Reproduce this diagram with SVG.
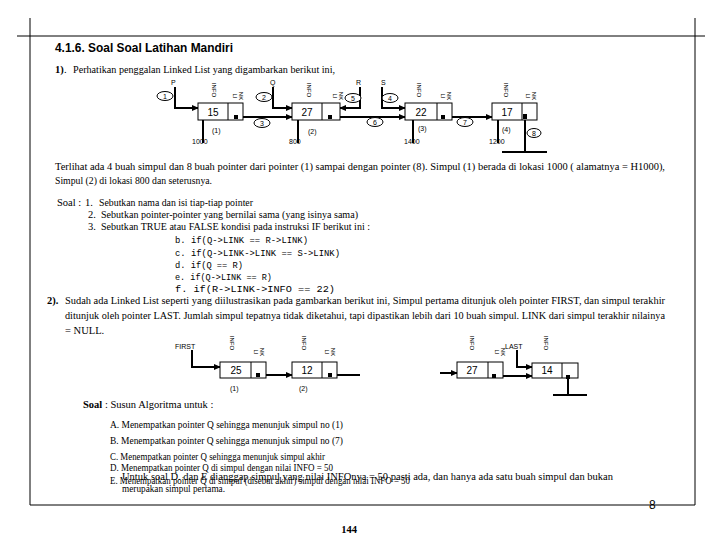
<svg xmlns="http://www.w3.org/2000/svg" width="720" height="540" viewBox="0 0 720 540">
<defs>
<marker id="arr" viewBox="0 0 8 8" refX="7" refY="4" markerWidth="7" markerHeight="7" markerUnits="userSpaceOnUse" orient="auto"><path d="M0,0.5 L8,4 L0,7.5 Z" fill="#000"/></marker>
<style>
.t{font-family:"Liberation Serif","Times New Roman",serif;font-size:10.5px;fill:#000}
.b{font-weight:bold}
.h{font-family:"Liberation Sans",Arial,sans-serif;font-size:13px;font-weight:bold;fill:#000}
.m{font-family:"Liberation Mono","Courier New",monospace;font-size:8.5px;fill:#000}
.s{font-family:"Liberation Sans",Arial,sans-serif;font-size:7px;fill:#000}
.v{font-family:"Liberation Sans",Arial,sans-serif;font-size:10px;fill:#000;text-anchor:middle}
.r{font-family:"Liberation Sans",Arial,sans-serif;font-size:6px;fill:#000;text-anchor:middle}
.box{fill:#fff;stroke:#000;stroke-width:1}
.c{fill:none;stroke:#000;stroke-width:2}
.thin{fill:none;stroke:#000;stroke-width:1}
.el{fill:#fff;stroke:#000;stroke-width:1}
.n{font-family:"Liberation Sans",Arial,sans-serif;font-size:7px;fill:#000;text-anchor:middle}
</style>
</defs>
<rect width="720" height="540" fill="#fff"/>
<g id="frame" class="thin">
<line x1="17" y1="36" x2="705" y2="36"/>
<line x1="30" y1="18" x2="30" y2="505"/>
<line x1="695" y1="18" x2="695" y2="505"/>
<line x1="30" y1="505" x2="695" y2="505"/>
</g>
<text class="h" x="55" y="52" textLength="178" lengthAdjust="spacingAndGlyphs">4.1.6. Soal Soal Latihan Mandiri</text>
<text class="t b" x="55" y="73">1)</text><text class="t" x="64" y="73">.</text>
<text class="t" x="73" y="73" textLength="262" lengthAdjust="spacingAndGlyphs">Perhatikan penggalan Linked List yang digambarkan berikut ini,</text>

<g id="connectors">
<path class="c" d="M175,87 V108 H198" marker-end="url(#arr)"/>
<path class="c" d="M273,87 V108 H292" marker-end="url(#arr)"/>
<path class="c" d="M360,87 V108 H340" marker-end="url(#arr)"/>
<path class="c" d="M382,87 V108 H405" marker-end="url(#arr)"/>
<path class="c" d="M236,117 H292" marker-end="url(#arr)"/>
<path class="c" d="M330,117 H405" marker-end="url(#arr)"/>
<path class="c" d="M443,117 H492" marker-end="url(#arr)"/>
<path class="c" d="M525,117 V152"/>
<path class="c" d="M502,152 H547"/>
<path class="c" d="M203,120 V143"/>
<path class="c" d="M298,120 V143"/>
<path class="c" d="M413,120 V143"/>
<path class="c" d="M498,120 V143"/>
<path class="c" d="M192,350 V367 H220" marker-end="url(#arr)"/>
<path class="c" d="M258,375 H292" marker-end="url(#arr)"/>
<path class="c" d="M330,375 H360"/>
<path class="c" d="M440,373 H457" marker-end="url(#arr)"/>
<path class="c" d="M494,376 H532" marker-end="url(#arr)"/>
<path class="c" d="M517,350 V367 H532" marker-end="url(#arr)"/>
<path class="c" d="M568,377 V395"/>
<path class="c" d="M553,395 H587"/>
</g>

<g id="ptrP"><text class="s" x="171" y="85">P</text><ellipse class="el" cx="165" cy="96" rx="8" ry="4.5"/><text class="n" x="165" y="98.5">1</text></g>
<g id="ptrQ"><text class="s" x="270" y="85">Q</text><ellipse class="el" cx="264" cy="97" rx="8" ry="4.5"/><text class="n" x="264" y="99.5">2</text></g>
<g id="ptrR"><text class="s" x="356" y="85">R</text><ellipse class="el" cx="353" cy="98" rx="8" ry="4.5"/><text class="n" x="353" y="100.5">5</text></g>
<g id="ptrS"><text class="s" x="381" y="85">S</text><ellipse class="el" cx="390" cy="98" rx="8" ry="4.5"/><text class="n" x="390" y="100.5">4</text></g>
<g id="lbl3"><ellipse class="el" cx="262" cy="123" rx="8" ry="4.5"/><text class="n" x="262" y="125.5">3</text></g>
<g id="lbl6"><ellipse class="el" cx="375" cy="122" rx="8" ry="4.5"/><text class="n" x="375" y="124.5">6</text></g>
<g id="lbl7"><ellipse class="el" cx="465" cy="122" rx="8" ry="4.5"/><text class="n" x="465" y="124.5">7</text></g>
<g id="lbl8"><ellipse class="el" cx="534" cy="133" rx="7" ry="4.5"/><text class="n" x="534" y="135.5">8</text></g>

<g id="node1">
<rect class="box" x="198" y="103" width="45" height="17"/><line class="thin" x1="228" y1="103" x2="228" y2="120"/>
<text class="v" x="213" y="115.5">15</text><rect x="234" y="115" width="4" height="4"/>
<text class="r" transform="translate(212,90) rotate(90)">INFO</text>
<text class="r" transform="translate(233,96) rotate(90)">LI</text><text class="r" transform="translate(239,96) rotate(90)">NK</text>
<text class="s" x="212" y="133">(1)</text><text class="s" x="192" y="144">1000</text>
</g>
<g id="node2">
<rect class="box" x="292" y="103" width="48" height="17"/><line class="thin" x1="322" y1="103" x2="322" y2="120"/>
<text class="v" x="307" y="115.5">27</text><rect x="328" y="115" width="4" height="4"/>
<text class="r" transform="translate(307,90) rotate(90)">INFO</text>
<text class="r" transform="translate(333,96) rotate(90)">LI</text><text class="r" transform="translate(339,96) rotate(90)">NK</text>
<text class="s" x="308" y="134">(2)</text><text class="s" x="289" y="144">800</text>
</g>
<g id="node3">
<rect class="box" x="405" y="103" width="47" height="17"/><line class="thin" x1="437" y1="103" x2="437" y2="120"/>
<text class="v" x="421" y="115.5">22</text><rect x="441" y="115" width="4" height="4"/>
<text class="r" transform="translate(417,90) rotate(90)">INFO</text>
<text class="r" transform="translate(441,96) rotate(90)">LI</text><text class="r" transform="translate(447,96) rotate(90)">NK</text>
<text class="s" x="418" y="131">(3)</text><text class="s" x="404" y="144">1400</text>
</g>
<g id="node4">
<rect class="box" x="492" y="103" width="45" height="17"/><line class="thin" x1="522" y1="103" x2="522" y2="120"/>
<text class="v" x="507" y="115.5">17</text><rect x="523" y="114" width="4" height="5"/>
<text class="r" transform="translate(504,90) rotate(90)">INFO</text>
<text class="r" transform="translate(526,96) rotate(90)">LI</text><text class="r" transform="translate(532,96) rotate(90)">NK</text>
<text class="s" x="502" y="132">(4)</text><text class="s" x="489" y="144">1200</text>
</g>

<text class="t" x="55" y="170" textLength="610" lengthAdjust="spacingAndGlyphs">Terlihat ada 4 buah simpul dan 8 buah pointer  dari  pointer  (1)  sampai dengan pointer (8). Simpul (1) berada di lokasi 1000 ( alamatnya = H1000),</text>
<text class="t" x="55" y="184" textLength="157" lengthAdjust="spacingAndGlyphs">Simpul (2) di lokasi 800 dan seterusnya.</text>

<text class="t" x="57" y="206">Soal :</text><text class="t" x="85" y="206">1.</text>
<text class="t" x="99" y="206" textLength="154" lengthAdjust="spacingAndGlyphs">Sebutkan nama dan isi tiap-tiap pointer</text>
<text class="t" x="88" y="218">2.</text>
<text class="t" x="101" y="218" textLength="257" lengthAdjust="spacingAndGlyphs">Sebutkan pointer-pointer yang bernilai sama (yang isinya sama)</text>
<text class="t" x="88" y="230">3.</text>
<text class="t" x="101" y="230" textLength="269" lengthAdjust="spacingAndGlyphs">Sebutkan TRUE atau FALSE kondisi pada instruksi IF berikut ini :</text>
<text class="m" x="175" y="243" textLength="133" lengthAdjust="spacingAndGlyphs">b.  if(Q-&gt;LINK == R-&gt;LINK)</text>
<text class="m" x="175" y="256" textLength="165" lengthAdjust="spacingAndGlyphs">c.  if(Q-&gt;LINK-&gt;LINK  ==  S-&gt;LINK)</text>
<text class="m" x="175" y="268" textLength="68" lengthAdjust="spacingAndGlyphs">d.  if(Q  ==  R)</text>
<text class="m" x="175" y="280">e.  if(Q-&gt;LINK == R)</text>
<text class="m" x="175" y="292" textLength="160" lengthAdjust="spacingAndGlyphs">f.  if(R-&gt;LINK-&gt;INFO  ==  22)</text>

<text class="t b" x="47" y="304">2).</text>
<text class="t" x="65" y="304" textLength="600" lengthAdjust="spacingAndGlyphs">Sudah ada Linked List seperti yang diilustrasikan pada gambarkan berikut ini, Simpul pertama ditunjuk oleh pointer FIRST, dan simpul terakhir</text>
<text class="t" x="65" y="319" textLength="600" lengthAdjust="spacingAndGlyphs">ditunjuk oleh pointer LAST. Jumlah simpul tepatnya tidak diketahui, tapi dipastikan  lebih dari 10 buah simpul.   LINK dari simpul terakhir nilainya</text>
<text class="t" x="65" y="334">= NULL.</text>

<g id="first"><text class="s" x="175" y="349">FIRST</text></g>
<g id="last"><text class="s" x="505" y="349">LAST</text></g>
<g id="nodeA">
<rect class="box" x="220" y="362" width="46" height="16"/><line class="thin" x1="251" y1="362" x2="251" y2="378"/>
<text class="v" x="236" y="374">25</text><rect x="256" y="373" width="4" height="4"/>
<text class="r" transform="translate(230,343) rotate(90)">INFO</text>
<text class="r" transform="translate(254,352) rotate(90)">LI</text><text class="r" transform="translate(260,352) rotate(90)">NK</text>
<text class="s" x="230" y="391">(1)</text>
</g>
<g id="nodeB">
<rect class="box" x="292" y="362" width="45" height="16"/><line class="thin" x1="322" y1="362" x2="322" y2="378"/>
<text class="v" x="307" y="374">12</text><rect x="328" y="373" width="4" height="4"/>
<text class="r" transform="translate(302,343) rotate(90)">INFO</text>
<text class="r" transform="translate(325,352) rotate(90)">LI</text><text class="r" transform="translate(331,352) rotate(90)">NK</text>
<text class="s" x="299" y="391">(2)</text>
</g>
<g id="nodeC">
<rect class="box" x="457" y="362" width="46" height="16"/><line class="thin" x1="488" y1="362" x2="488" y2="378"/>
<text class="v" x="472" y="374">27</text><rect x="492" y="374" width="4" height="4"/>
<text class="r" transform="translate(470,343) rotate(90)">INFO</text>
<text class="r" transform="translate(495,352) rotate(90)">LI</text><text class="r" transform="translate(501,352) rotate(90)">NK</text>
</g>
<g id="nodeD">
<rect class="box" x="532" y="363" width="46" height="15"/><line class="thin" x1="562" y1="363" x2="562" y2="378"/>
<text class="v" x="547" y="374">14</text><rect x="566" y="375" width="4" height="4"/>
<text class="r" transform="translate(544,343) rotate(90)">INFO</text>
</g>

<text class="t" x="83" y="408"><tspan font-weight="bold">Soal</tspan> :  Susun Algoritma untuk :</text>
<text class="t" x="110" y="428" textLength="233" lengthAdjust="spacingAndGlyphs">A.  Menempatkan pointer  Q sehingga menunjuk simpul no (1)</text>
<text class="t" x="110" y="444" textLength="233" lengthAdjust="spacingAndGlyphs">B.   Menempatkan pointer  Q sehingga menunjuk simpul no (7)</text>
<text class="t" x="110" y="460" textLength="215" lengthAdjust="spacingAndGlyphs">C.  Menempatkan pointer Q sehingga menunjuk simpul akhir</text>
<text class="t" x="110" y="471" textLength="223" lengthAdjust="spacingAndGlyphs">D.  Menempatkan pointer  Q di simpul dengan nilai INFO = 50</text>
<text class="t" x="122" y="480" textLength="491" lengthAdjust="spacingAndGlyphs">Untuk soal D. dan E dianggap simpul yang nilai INFOnya  =  50 pasti ada, dan hanya ada satu buah simpul dan bukan</text>
<text class="t" x="110" y="484" textLength="300" lengthAdjust="spacingAndGlyphs">E.  Menempatkan pointer Q di simpul (disebut akhir) simpul dengan nilai INFO = 50</text>
<text class="t" x="122" y="492" textLength="103" lengthAdjust="spacingAndGlyphs">merupakan simpul pertama.</text>
<text x="649" y="509" font-family="Liberation Sans, Arial, sans-serif" font-size="12" fill="#000">8</text>
<text class="t b" x="349" y="533" text-anchor="middle" font-size="11">144</text>
</svg>
